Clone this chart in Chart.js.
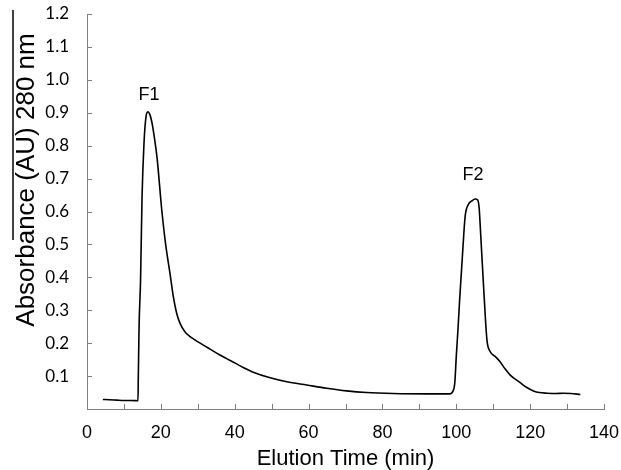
<!DOCTYPE html>
<html>
<head>
<meta charset="utf-8">
<script src="https://cdn.jsdelivr.net/npm/chart.js@4.4.1/dist/chart.umd.min.js"></script>
<style>
html,body{margin:0;padding:0;background:#fff;}
canvas{display:block;}
</style>
</head>
<body>
<canvas id="c" width="621" height="470"></canvas>
<script>
// Elution time (min)
const elutionTime = [
  4.3, 6, 8, 10, 12, 13.8, 13.9, 14.1, 14.5, 14.9, 15.4, 16.0, 16.5, 17.0, 17.5, 17.9, 19.0, 20.2, 21.3, 22.5,
  23.4, 24.3, 25.2, 26.5, 27.9, 28.8, 31.5, 33.3, 36.0, 37.8, 40.5, 42.3, 45.0, 49.6, 54.1, 59.5, 64.9, 70.3, 75.7, 82.9, 92.0, 98.3,
  99.0, 99.6, 100.0, 100.5, 100.9, 101.8, 102.4, 103.3, 104.2, 105.1, 105.8, 106.2, 106.5, 107.4, 108.3, 109.2,
  110.5, 111.9, 113.2, 114.6, 117.3, 119.0, 120.9, 122.5, 124.6, 127.0, 129.0, 131.0, 133.6
];
// Absorbance (AU) 280 nm
const absorbance = [
  0.029, 0.028, 0.027, 0.026, 0.026, 0.025, 0.10, 0.25, 0.39, 0.64, 0.80, 0.89, 0.903, 0.895, 0.875, 0.85, 0.76, 0.61, 0.50, 0.41,
  0.34, 0.29, 0.26, 0.235, 0.22, 0.213, 0.194, 0.182, 0.164, 0.153, 0.137, 0.126, 0.112, 0.095, 0.083, 0.073, 0.063, 0.055, 0.050, 0.047, 0.046, 0.046,
  0.052, 0.08, 0.16, 0.25, 0.33, 0.49, 0.585, 0.622, 0.632, 0.638, 0.635, 0.61, 0.553, 0.37, 0.21, 0.174,
  0.16, 0.143, 0.122, 0.103, 0.080, 0.066, 0.055, 0.050, 0.048, 0.047, 0.048, 0.047, 0.044
];
// Peak labels (text, x in min, y in AU)
const peakNames = ["F1", "F2"];
const peakX = [16.8, 104.5];
const peakY = [0.954, 0.711];

const xTicks = [0, 20, 40, 60, 80, 100, 120, 140];
const yTickLabels = ["0.1","0.2","0.3","0.4","0.5","0.6","0.7","0.8","0.9","1.0","1.1","1.2"];
const yTitle = 'Absorbance (AU) 280 nm';

const AXIS = '#808080';

const extras = {
  id: 'extras',
  afterDraw(chart) {
    const ctx = chart.ctx;
    const xs = chart.scales.x, ys = chart.scales.y;
    const area = chart.chartArea;
    ctx.save();
    ctx.strokeStyle = AXIS;
    ctx.lineWidth = 1;
    // inward y ticks
    ys.ticks.forEach(t => {
      if (t.value <= 0) return;
      const p = Math.round(ys.getPixelForValue(t.value)) + 0.5;
      ctx.beginPath();
      ctx.moveTo(area.left, p);
      ctx.lineTo(area.left + 5, p);
      ctx.stroke();
    });
    // inward x ticks
    xs.ticks.forEach(t => {
      if (t.value <= 0) return;
      const p = Math.round(xs.getPixelForValue(t.value)) + 0.5;
      ctx.beginPath();
      ctx.moveTo(p, area.bottom);
      ctx.lineTo(p, area.bottom - 5);
      ctx.stroke();
    });
    // peak labels
    ctx.fillStyle = '#000';
    ctx.font = '18px "Liberation Sans", Arial, sans-serif';
    ctx.textAlign = 'center';
    ctx.textBaseline = 'middle';
    peakNames.forEach((n, i) => {
      ctx.fillText(n, xs.getPixelForValue(peakX[i]), ys.getPixelForValue(peakY[i]));
    });
    // y-axis title
    ctx.save();
    ctx.translate(27, 180);
    ctx.rotate(-Math.PI / 2);
    ctx.font = '26px "Liberation Sans", Arial, sans-serif';
    ctx.fillText(yTitle, 0, 0);
    ctx.restore();
    // overline stroke near y-axis title (as in the source figure)
    ctx.strokeStyle = '#000';
    ctx.lineWidth = 1.5;
    ctx.beginPath();
    ctx.moveTo(13, 10);
    ctx.lineTo(13, 240);
    ctx.stroke();
    ctx.restore();
  }
};

new Chart(document.getElementById('c'), {
  type: 'line',
  data: {
    datasets: [{
      data: elutionTime.map((x, i) => ({x: x, y: absorbance[i]})),
      borderColor: '#000',
      borderWidth: 1.6,
      pointRadius: 0,
      fill: false,
      cubicInterpolationMode: 'monotone'
    }]
  },
  options: {
    responsive: false,
    animation: false,
    layout: { padding: { top: 14, right: 17, left: 0, bottom: 0 } },
    plugins: { legend: { display: false }, tooltip: { enabled: false } },
    scales: {
      x: {
        type: 'linear',
        min: 0, max: 140,
        afterFit(s) { s.height = 61; s.paddingLeft = 0; s.paddingRight = 0; },
        grid: { display: true, drawOnChartArea: false, drawTicks: false },
        border: { display: true, color: AXIS, width: 1 },
        ticks: {
          stepSize: 10,
          padding: 13,
          maxRotation: 0,
          autoSkip: false,
          color: '#000',
          font: { family: '"Liberation Sans", Arial, sans-serif', size: 18 },
          callback: (v) => xTicks.includes(v) ? String(v) : ''
        },
        title: {
          display: true,
          text: 'Elution Time (min)',
          color: '#000',
          font: { family: '"Liberation Sans", Arial, sans-serif', size: 22, lineHeight: 1 },
          padding: { top: 0, bottom: 0 }
        }
      },
      y: {
        min: 0, max: 1.2,
        afterFit(s) { s.width = 87; s.paddingTop = 0; s.paddingBottom = 0; },
        grid: { display: true, drawOnChartArea: false, drawTicks: false },
        border: { display: true, color: AXIS, width: 1 },
        ticks: {
          stepSize: 0.1,
          padding: 18,
          autoSkip: false,
          color: '#000',
          font: { family: 'Lato, "Open Sans", sans-serif', size: 17 },
          callback: (v, i) => i === 0 ? '' : (yTickLabels[i - 1] || '')
        },
        title: { display: false }
      }
    }
  },
  plugins: [extras]
});
</script>
</body>
</html>
